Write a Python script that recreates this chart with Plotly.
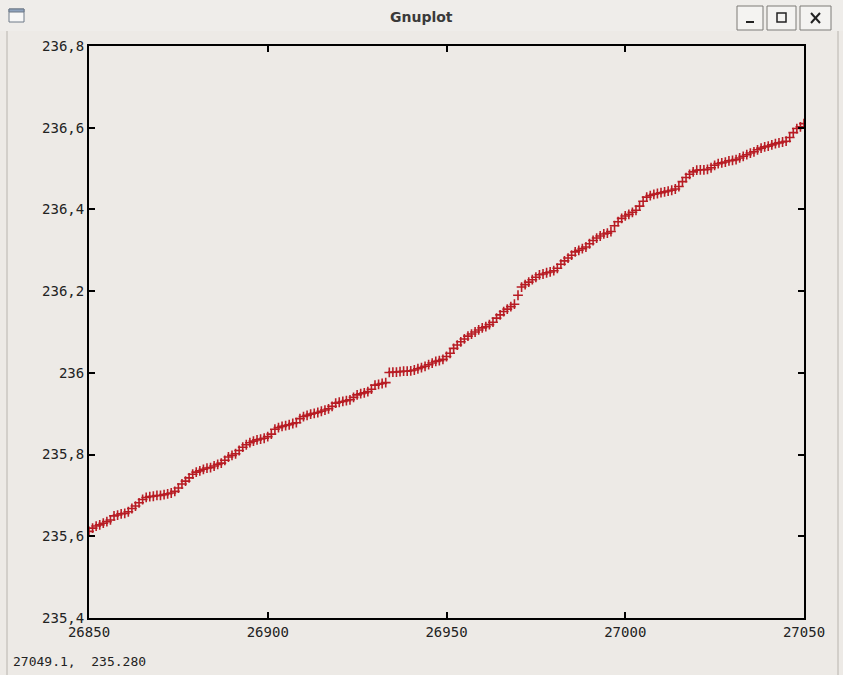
import plotly.graph_objects as go

# Sample positions and measured values
x_start = 26850
values = [
    235.612, 235.620, 235.625, 235.628, 235.632, 235.636, 235.640, 235.650, 235.652, 235.655,
    235.656, 235.660, 235.668, 235.674, 235.682, 235.690, 235.695, 235.697, 235.698, 235.700,
    235.700, 235.702, 235.704, 235.706, 235.710, 235.718, 235.728, 235.735, 235.743, 235.752,
    235.757, 235.760, 235.764, 235.767, 235.768, 235.772, 235.776, 235.779, 235.786, 235.794,
    235.798, 235.802, 235.810, 235.818, 235.824, 235.829, 235.833, 235.836, 235.838, 235.840,
    235.844, 235.850, 235.862, 235.866, 235.869, 235.871, 235.873, 235.876, 235.878, 235.888,
    235.893, 235.896, 235.899, 235.901, 235.903, 235.906, 235.909, 235.912, 235.918, 235.926,
    235.928, 235.930, 235.932, 235.934, 235.940, 235.946, 235.949, 235.951, 235.954, 235.960,
    235.970, 235.972, 235.974, 235.976, 236.001, 236.002, 236.002, 236.003, 236.004, 236.004,
    236.005, 236.007, 236.010, 236.013, 236.016, 236.020, 236.024, 236.028, 236.030, 236.033,
    236.040, 236.048, 236.060, 236.068, 236.076, 236.083, 236.090, 236.095, 236.100, 236.105,
    236.110, 236.113, 236.118, 236.124, 236.134, 236.142, 236.150, 236.156, 236.162, 236.168,
    236.190, 236.210, 236.216, 236.222, 236.228, 236.234, 236.240, 236.242, 236.245, 236.247,
    236.250, 236.256, 236.266, 236.274, 236.281, 236.288, 236.296, 236.300, 236.304, 236.308,
    236.316, 236.324, 236.330, 236.335, 236.340, 236.342, 236.346, 236.360, 236.370, 236.378,
    236.384, 236.388, 236.393, 236.398, 236.408, 236.420, 236.430, 236.434, 236.437, 236.439,
    236.441, 236.443, 236.445, 236.447, 236.450, 236.456, 236.468, 236.478, 236.486, 236.492,
    236.496, 236.497, 236.497, 236.498, 236.502, 236.508, 236.512, 236.514, 236.516, 236.519,
    236.520, 236.522, 236.526, 236.530, 236.534, 236.538, 236.541, 236.546, 236.550, 236.553,
    236.555, 236.558, 236.561, 236.563, 236.565, 236.567, 236.576, 236.588, 236.598, 236.602,
    236.610,
]
xs = [x_start + i for i in range(len(values))]

# Axis ticks and labels
x_ticks = [26850, 26900, 26950, 27000, 27050]
x_tick_text = ["26850", "26900", "26950", "27000", "27050"]
y_ticks = [235.4, 235.6, 235.8, 236.0, 236.2, 236.4, 236.6, 236.8]
y_tick_text = ["235,4", "235,6", "235,8", "236", "236,2", "236,4", "236,6", "236,8"]

window_title = "Gnuplot"
status_text = "27049.1,  235.280"

BG = "#EDEAE6"
FONT = "DejaVu Sans Mono"

# Figure geometry (pixels)
W, H = 843, 675
L, R, T, B = 89, 39, 46, 57
PW, PH = W - L - R, H - T - B


def px(xp):
    return (xp - L) / PW


def py(yp):
    return (H - yp - B) / PH


fig = go.Figure()
fig.add_trace(go.Scatter(
    x=xs, y=values, mode="markers",
    marker=dict(symbol="cross-thin", size=7, line=dict(color="#b81c24", width=1.6)),
    hoverinfo="skip", showlegend=False,
))

axis_common = dict(
    showgrid=False, zeroline=False, showline=True, linecolor="black", linewidth=2,
    mirror="ticks", ticks="inside", ticklen=6, tickwidth=2, tickcolor="black",
    tickfont=dict(family=FONT, size=14, color="#222222"),
)

fig.update_layout(
    width=W, height=H,
    paper_bgcolor=BG, plot_bgcolor=BG,
    margin=dict(l=L, r=R, t=T, b=B),
    xaxis=dict(range=[26850, 27050], tickvals=x_ticks, ticktext=x_tick_text, **axis_common),
    yaxis=dict(range=[235.4, 236.8], tickvals=y_ticks, ticktext=y_tick_text, **axis_common),
    showlegend=False,
)

# title bar band
fig.add_shape(type="rect", xref="paper", yref="paper", x0=px(0), x1=px(W), y0=py(31), y1=py(0),
              fillcolor="#EFEDEA", line=dict(width=0), layer="below")
# window frame edges
fig.add_shape(type="line", xref="paper", yref="paper", x0=px(7), x1=px(7), y0=py(675), y1=py(31),
              line=dict(color="#B8B4AE", width=1))
fig.add_shape(type="line", xref="paper", yref="paper", x0=px(838), x1=px(838), y0=py(675), y1=py(31),
              line=dict(color="#B8B4AE", width=1))
# window icon
fig.add_shape(type="rect", xref="paper", yref="paper", x0=px(9), x1=px(24), y0=py(22), y1=py(9),
              fillcolor="#F7F7F7", line=dict(color="#6E7A88", width=1))
fig.add_shape(type="rect", xref="paper", yref="paper", x0=px(9), x1=px(24), y0=py(12), y1=py(9),
              fillcolor="#8DA2BE", line=dict(color="#6E7A88", width=1))
# title buttons
for bx0, bx1 in [(737, 763), (767, 796), (800, 831)]:
    fig.add_shape(type="rect", xref="paper", yref="paper", x0=px(bx0), x1=px(bx1),
                  y0=py(30), y1=py(6), fillcolor="#F4F3F1",
                  line=dict(color="#7D7A76", width=1))
# minimise bar
fig.add_shape(type="line", xref="paper", yref="paper", x0=px(746), x1=px(754), y0=py(22), y1=py(22),
              line=dict(color="#222", width=2))
# maximise box
fig.add_shape(type="rect", xref="paper", yref="paper", x0=px(777), x1=px(786), y0=py(22), y1=py(13),
              line=dict(color="#222", width=1.5))
# close cross
fig.add_shape(type="line", xref="paper", yref="paper", x0=px(811), x1=px(820), y0=py(13), y1=py(23),
              line=dict(color="#222", width=2))
fig.add_shape(type="line", xref="paper", yref="paper", x0=px(820), x1=px(811), y0=py(13), y1=py(23),
              line=dict(color="#222", width=2))

fig.add_annotation(text=f"<b>{window_title}</b>", xref="paper", yref="paper", x=px(421), y=py(7),
                   yanchor="top", showarrow=False, font=dict(family="DejaVu Sans", size=14, color="#3A3A3A"))
fig.add_annotation(text=status_text, xref="paper", yref="paper", x=px(11), y=py(671),
                   xanchor="left", yanchor="bottom", showarrow=False,
                   font=dict(family=FONT, size=13, color="#222"))

fig.write_html("out.html")
